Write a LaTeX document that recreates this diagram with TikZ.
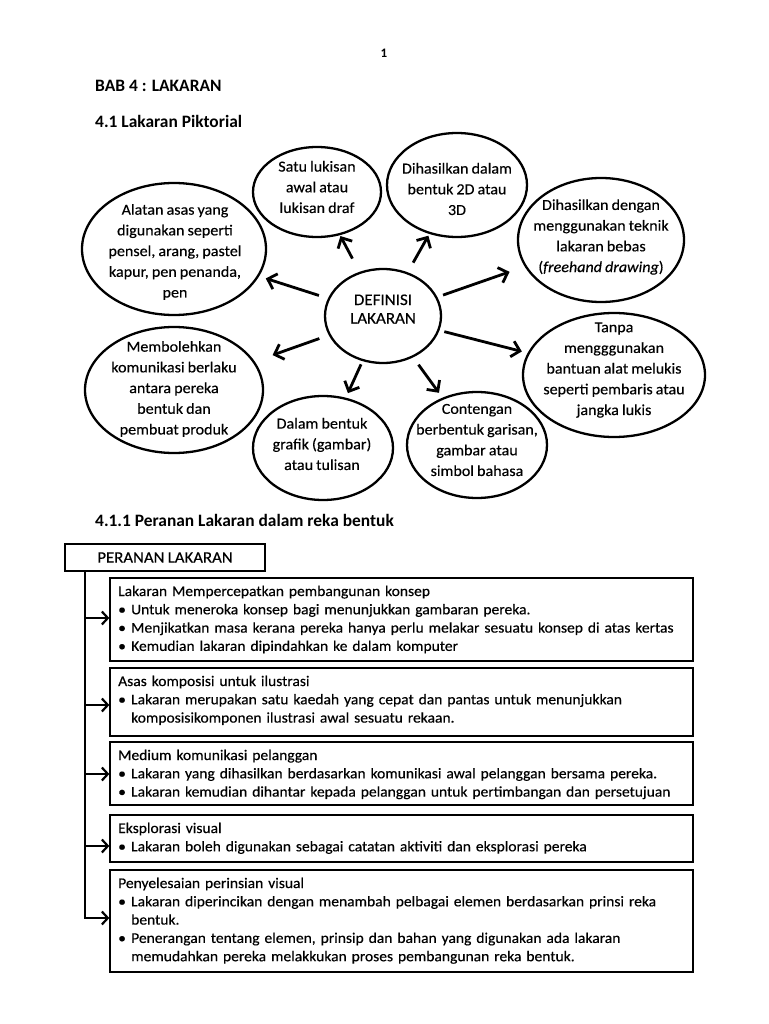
\documentclass[tikz,border=0pt]{standalone}
\usepackage{fontspec}
\setmainfont{Carlito}[FakeStretch=1.05, WordSpace=0.85, FakeBold=0.35]
\newfontfamily\hfont{Carlito}
\usetikzlibrary{shapes.geometric,arrows.meta}
\begin{document}
\begin{tikzpicture}[x=1pt,y=-1pt,
  ell/.style={draw, ellipse, line width=2.3pt, inner sep=0pt},
  etxt/.style={align=center, inner sep=0pt, font=\fontsize{15.3}{20.7}\selectfont},
  arr/.style={line width=2.8pt, -{Straight Barb[length=8pt,width=16pt]}},
  head/.style={anchor=west, inner sep=0pt, font=\hfont\fontsize{17.4}{20}\selectfont\bfseries},
  boxr/.style={draw, line width=1.3pt, inner sep=0pt},
  btxt/.style={align=left, text width=600pt, inner sep=0pt, font=\fontsize{14.8}{18.3}\selectfont},
  barr/.style={line width=2.2pt, -{Straight Barb[length=6pt,width=13pt]}}
]
\newcommand{\bt}{\makebox[13pt][l]{•}}
\newcommand{\bi}{\hspace*{13pt}}
\useasboundingbox (0,0) rectangle (768,1024);

% page number and headings
\node[inner sep=0pt, font=\hfont\fontsize{13}{15}\selectfont\bfseries] (pg) at (384,53) {1};
\node[head] (h1) at (95,86) {BAB 4 : LAKARAN};
\node[head] (h2) at (95,121) {4.1 Lakaran Piktorial};
\node[head] (h3) at (95,520) {4.1.1 Peranan Lakaran dalam reka bentuk};

% ellipses
\node[ell, minimum width=116pt, minimum height=94pt] (d) at (383,316) {};
\node[ell, minimum width=128pt, minimum height=90pt] (e1) at (317,192) {};
\node[ell, minimum width=140pt, minimum height=104pt] (e2) at (457,185) {};
\node[ell, minimum width=184pt, minimum height=132pt] (e3) at (174,249) {};
\node[ell, minimum width=166pt, minimum height=124pt] (e4) at (601,240) {};
\node[ell, minimum width=178pt, minimum height=126pt] (e6) at (174,390) {};
\node[ell, minimum width=140pt, minimum height=104pt] (e7) at (323,448) {};
\node[ell, minimum width=140pt, minimum height=106pt] (e8) at (477,445) {};
\node[ell, minimum width=182pt, minimum height=124pt] (e9) at (614,375) {};

\node[etxt, font=\fontsize{16.2}{18.5}\selectfont] (dt) at (383,309) {DEFINISI\\LAKARAN};
\node[etxt] (e1t) at (317,187) {Satu lukisan\\awal atau\\lukisan draf};
\node[etxt] (e2t) at (457,189) {Dihasilkan dalam\\bentuk 2D atau\\3D};
\node[etxt] (e3t) at (175,252) {Alatan asas yang\\digunakan seperti\\pensel, arang, pastel\\kapur, pen penanda,\\pen};
\node[etxt] (e4t) at (601,237) {Dihasilkan dengan\\menggunakan teknik\\lakaran bebas\\(\textit{freehand drawing})};
\node[etxt] (e6t) at (174,389) {Membolehkan\\komunikasi berlaku\\antara pereka\\bentuk dan\\pembuat produk};
\node[etxt] (e7t) at (322,444) {Dalam bentuk\\grafik (gambar)\\atau tulisan};
\node[etxt] (e8t) at (477,440) {Contengan\\berbentuk garisan,\\gambar atau\\simbol bahasa};
\node[etxt] (e9t) at (614,370) {Tanpa\\mengggunakan\\bantuan alat melukis\\seperti pembaris atau\\jangka lukis};

% arrows
\draw[arr, shorten <=15pt, shorten >=1pt] (d) -- (e1);
\draw[arr, shorten <=11pt, shorten >=2pt] (d) -- (e2);
\draw[arr, shorten <=9.5pt, shorten >=7pt] (d) -- (e3);
\draw[arr, shorten <=6pt, shorten >=16pt] (d) -- (e4);
\draw[arr, shorten <=10pt, shorten >=19pt] (d) -- (e6);
\draw[arr, shorten <=3.5pt, shorten >=5pt] (d) -- (e7);
\draw[arr, shorten <=9pt, shorten >=6pt] (d) -- (e8);
\draw[arr, shorten <=5pt, shorten >=6pt] (d) -- (e9);

% peranan lakaran
\node[boxr, minimum width=200pt, minimum height=27pt, font=\fontsize{16}{18}\selectfont] (pl) at (165,557.5) {PERANAN LAKARAN};

\node[boxr, minimum width=583pt, minimum height=83pt] (b1) at (401.5,619.5) {};
\node[boxr, minimum width=583pt, minimum height=68pt] (b2) at (401.5,702) {};
\node[boxr, minimum width=583pt, minimum height=63pt] (b3) at (401.5,773.5) {};
\node[boxr, minimum width=583pt, minimum height=47pt] (b4) at (401.5,838.5) {};
\node[boxr, minimum width=583pt, minimum height=102pt] (b5) at (401.5,921) {};

\node[btxt, anchor=base west] (b1t) at (118,596) {Lakaran Mempercepatkan pembangunan konsep\\\bt Untuk meneroka konsep bagi menunjukkan gambaran pereka.\\\bt Menjikatkan masa kerana pereka hanya perlu melakar sesuatu konsep di atas kertas\\\bt Kemudian lakaran dipindahkan ke dalam komputer};
\node[btxt, anchor=base west] (b2t) at (118,686) {Asas komposisi untuk ilustrasi\\\bt Lakaran merupakan satu kaedah yang cepat dan pantas untuk menunjukkan\\\bi komposisikomponen ilustrasi awal sesuatu rekaan.};
\node[btxt, anchor=base west] (b3t) at (118,760) {Medium komunikasi pelanggan\\\bt Lakaran yang dihasilkan berdasarkan komunikasi awal pelanggan bersama pereka.\\\bt Lakaran kemudian dihantar kepada pelanggan untuk pertimbangan dan persetujuan};
\node[btxt, anchor=base west] (b4t) at (118,833) {Eksplorasi visual\\\bt Lakaran boleh digunakan sebagai catatan aktiviti dan eksplorasi pereka};
\node[btxt, anchor=base west] (b5t) at (118,888) {Penyelesaian perinsian visual\\\bt Lakaran diperincikan dengan menambah pelbagai elemen berdasarkan prinsi reka\\\bi bentuk.\\\bt Penerangan tentang elemen, prinsip dan bahan yang digunakan ada lakaran\\\bi memudahkan pereka melakkukan proses pembangunan reka bentuk.};

\coordinate (j1) at (85,618);
\coordinate (j2) at (85,705);
\coordinate (j3) at (85,774);
\coordinate (j4) at (85,846);
\coordinate (j5) at (85,918);
\draw[line width=2pt] (pl.south -| j1) -- (j5);
\draw[barr] (j1) -- (j1 -| b1.west);
\draw[barr] (j2) -- (j2 -| b2.west);
\draw[barr] (j3) -- (j3 -| b3.west);
\draw[barr] (j4) -- (j4 -| b4.west);
\draw[barr] ([xshift=-1pt]j5) -- (j5 -| b5.west);
\end{tikzpicture}
\end{document}
